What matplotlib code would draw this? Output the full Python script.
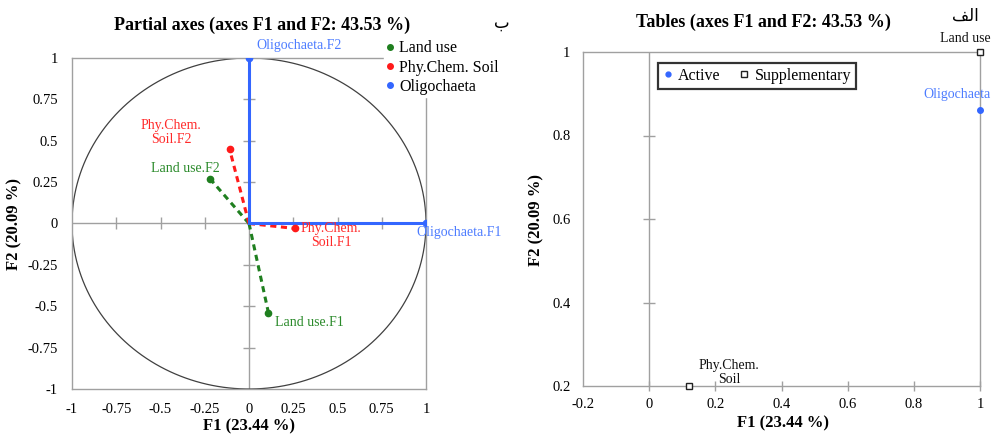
import matplotlib
matplotlib.use("Agg")
import matplotlib.pyplot as plt
from matplotlib.lines import Line2D
import numpy as np

plt.rcParams['font.family'] = ['Liberation Serif', 'DejaVu Serif']

# ---------------- data ----------------
# Partial axes (correlation circle)
groups = ["Land use", "Phy.Chem. Soil", "Oligochaeta"]
group_colors = ["#1f7f1f", "#ff1a1a", "#3366ff"]
label_colors = ["#2a8a2a", "#ff2a2a", "#4d7cff"]
partial_F1_x = [0.11, 0.26, 1.00]    # coordinates of "<group>.F1"
partial_F1_y = [-0.54, -0.03, 0.00]
partial_F2_x = [-0.22, -0.11, 0.00]  # coordinates of "<group>.F2"
partial_F2_y = [0.27, 0.45, 1.00]
f1_labels = ["Land use.F1", "Phy.Chem.\nSoil.F1", "Oligochaeta.F1"]
f2_labels = ["Land use.F2", "Phy.Chem.\nSoil.F2", "Oligochaeta.F2"]
left_ticks = [-1, -0.75, -0.5, -0.25, 0, 0.25, 0.5, 0.75, 1]
left_ticklabels = ["-1", "-0.75", "-0.5", "-0.25", "0", "0.25", "0.5", "0.75", "1"]

# Tables plot
active_names = ["Oligochaeta"]
active_x = [1.00]
active_y = [0.86]
supp_names = ["Land use", "Phy.Chem.\nSoil"]
supp_x = [1.00, 0.12]
supp_y = [1.00, 0.20]
right_xticks = [-0.2, 0, 0.2, 0.4, 0.6, 0.8, 1]
right_xticklabels = ["-0.2", "0", "0.2", "0.4", "0.6", "0.8", "1"]
right_yticks = [0.2, 0.4, 0.6, 0.8, 1]
right_yticklabels = ["0.2", "0.4", "0.6", "0.8", "1"]

W, H = 992, 434
fig = plt.figure(figsize=(W / 100, H / 100), dpi=100)

def fx(px):
    return px / W

def fy(py):
    return 1 - py / H

GRAY = "#a0a0a0"
TICK_FS = 10.5
LAB_FS = 10
TITLE_FS = 13
AX_FS = 12
LEG_FS = 11.5

# ---------------- left: partial axes ----------------
ax1 = fig.add_axes([fx(72), fy(389), fx(426) - fx(72), fy(58) - fy(389)])
ax1.set_xlim(-1, 1)
ax1.set_ylim(-1, 1)
for s in ax1.spines.values():
    s.set_color(GRAY)
    s.set_linewidth(1.0)
ax1.axhline(0, color=GRAY, lw=1.0, zorder=1)
ax1.axvline(0, color=GRAY, lw=1.0, zorder=1)
inner = [t for t in left_ticks if t not in (-1, 0, 1)]
ax1.plot(inner, [0] * len(inner), ls="none", marker="|", ms=9, mew=1.0, color=GRAY, zorder=1)
ax1.plot([0] * len(inner), inner, ls="none", marker="_", ms=9, mew=1.0, color=GRAY, zorder=1)
th = np.linspace(0, 2 * np.pi, 400)
ax1.plot(np.cos(th), np.sin(th), color="#404040", lw=0.9, zorder=2)

for i, g in enumerate(groups):
    ls = "-" if g == "Oligochaeta" else (0, (2.0, 1.5))
    for px, py in ((partial_F1_x[i], partial_F1_y[i]), (partial_F2_x[i], partial_F2_y[i])):
        ax1.plot([0, px], [0, py], color=group_colors[i], lw=2.2, ls=ls, zorder=3)
        ax1.plot([px], [py], "o", color=group_colors[i], ms=4.5, zorder=4)

lab_kw = dict(fontsize=LAB_FS, textcoords="offset points", zorder=5, linespacing=1.12)
ax1.annotate(f2_labels[2], (partial_F2_x[2], partial_F2_y[2]), xytext=(5, 4),
             ha="left", va="bottom", color=label_colors[2], **lab_kw)
ax1.annotate(f1_labels[2], (partial_F1_x[2], partial_F1_y[2]), xytext=(-7, -2),
             ha="left", va="top", color=label_colors[2], **lab_kw)
ax1.annotate(f1_labels[1], (partial_F1_x[1], partial_F1_y[1]), xytext=(4, 5),
             ha="left", va="top", color=label_colors[1], multialignment="center", **lab_kw)
ax1.annotate(f2_labels[1], (partial_F2_x[1], partial_F2_y[1]), xytext=(-42, 2),
             ha="center", va="bottom", color=label_colors[1], multialignment="center", **lab_kw)
ax1.annotate(f2_labels[0], (partial_F2_x[0], partial_F2_y[0]), xytext=(-18, 3),
             ha="center", va="bottom", color=label_colors[0], **lab_kw)
ax1.annotate(f1_labels[0], (partial_F1_x[0], partial_F1_y[0]), xytext=(5, -2),
             ha="left", va="top", color=label_colors[0], **lab_kw)

ax1.set_xticks(left_ticks)
ax1.set_xticklabels(left_ticklabels)
ax1.set_yticks(left_ticks)
ax1.set_yticklabels(left_ticklabels)
ax1.tick_params(length=0, labelsize=TICK_FS, pad=10)

handles = [Line2D([], [], ls="none", marker="o", ms=4, color=c) for c in group_colors]
leg1 = fig.legend(handles, groups, loc="upper left", bbox_to_anchor=(fx(384), fy(38)),
                  frameon=True, fontsize=LEG_FS, handlelength=0.5, handletextpad=0.3,
                  labelspacing=0.2, borderpad=0.15, borderaxespad=0)
leg1.get_frame().set_edgecolor("white")
leg1.get_frame().set_facecolor("white")
leg1.get_frame().set_alpha(1)

fig.text(fx(262), fy(25), "Partial axes (axes F1 and F2: 43.53 %)", ha="center", va="center",
         fontsize=TITLE_FS, fontweight="bold")
fig.text(fx(502), fy(23), "ب", ha="center", va="center", fontsize=12,
         family=["DejaVu Sans"])
fig.text(fx(249), fy(426), "F1 (23.44 %)", ha="center", va="center", fontsize=AX_FS, fontweight="bold")
fig.text(fx(14), fy(224), "F2 (20.09 %)", ha="center", va="center", rotation=90,
         fontsize=AX_FS, fontweight="bold")

# ---------------- right: tables ----------------
ax2 = fig.add_axes([fx(583), fy(386), fx(980) - fx(583), fy(52) - fy(386)])
ax2.set_xlim(-0.2, 1)
ax2.set_ylim(0.2, 1)
for s in ax2.spines.values():
    s.set_color(GRAY)
    s.set_linewidth(1.0)
ax2.axvline(0, color=GRAY, lw=1.0, zorder=1)
rin_y = [t for t in right_yticks if t not in (0.2, 1)]
rin_x = [t for t in right_xticks if t not in (-0.2,)]
ax2.plot([0] * len(rin_y), rin_y, ls="none", marker="_", ms=9, mew=1.0, color=GRAY, zorder=1, clip_on=False)
ax2.plot(rin_x, [0.2] * len(rin_x), ls="none", marker="|", ms=7, mew=1.0, color=GRAY, zorder=1, clip_on=False)

ax2.plot(active_x, active_y, ls="none", marker="o", ms=4, color="#3366ff", zorder=4, clip_on=False)
ax2.plot(supp_x, supp_y, ls="none", marker="s", ms=4.5, mfc="white", mec="#222222",
         mew=1.0, zorder=4, clip_on=False)

ax2.annotate(active_names[0], (active_x[0], active_y[0]), xytext=(8, 7), textcoords="offset points",
             ha="right", va="bottom", fontsize=LAB_FS, color="#4d7cff", annotation_clip=False)
ax2.annotate(supp_names[0], (supp_x[0], supp_y[0]), xytext=(8, 5), textcoords="offset points",
             ha="right", va="bottom", fontsize=LAB_FS, color="#111111", annotation_clip=False)
ax2.annotate(supp_names[1], (supp_x[1], supp_y[1]), xytext=(29, 0), textcoords="offset points",
             ha="center", va="bottom", fontsize=LAB_FS, color="#111111", multialignment="center",
             linespacing=1.12, annotation_clip=False)

ax2.set_xticks(right_xticks)
ax2.set_xticklabels(right_xticklabels)
ax2.set_yticks(right_yticks)
ax2.set_yticklabels(right_yticklabels)
ax2.tick_params(length=0, labelsize=TICK_FS, pad=9)

h2 = [Line2D([], [], ls="none", marker="o", ms=3.5, color="#3366ff"),
      Line2D([], [], ls="none", marker="s", ms=4, mfc="white", mec="#222222", mew=1.0)]
leg2 = ax2.legend(h2, ["Active", "Supplementary"], loc="upper left",
                  bbox_to_anchor=((658 - 583) / 397, (386 - 63) / 334), ncol=2,
                  fontsize=LEG_FS, frameon=True, fancybox=False, handlelength=0.6,
                  handletextpad=0.35, columnspacing=1.2, borderpad=0.3, borderaxespad=0)
leg2.get_frame().set_edgecolor("black")
leg2.get_frame().set_linewidth(1.6)

fig.text(fx(763), fy(22), "Tables (axes F1 and F2: 43.53 %)", ha="center", va="center",
         fontsize=TITLE_FS, fontweight="bold")
fig.text(fx(965), fy(16), "\uFED2\uFEDF\uFE8D", ha="center", va="center", fontsize=12,
         family=["DejaVu Sans"])
fig.text(fx(783), fy(423), "F1 (23.44 %)", ha="center", va="center", fontsize=AX_FS, fontweight="bold")
fig.text(fx(536), fy(220), "F2 (20.09 %)", ha="center", va="center", rotation=90,
         fontsize=AX_FS, fontweight="bold")

fig.savefig("out.png", dpi=100)
